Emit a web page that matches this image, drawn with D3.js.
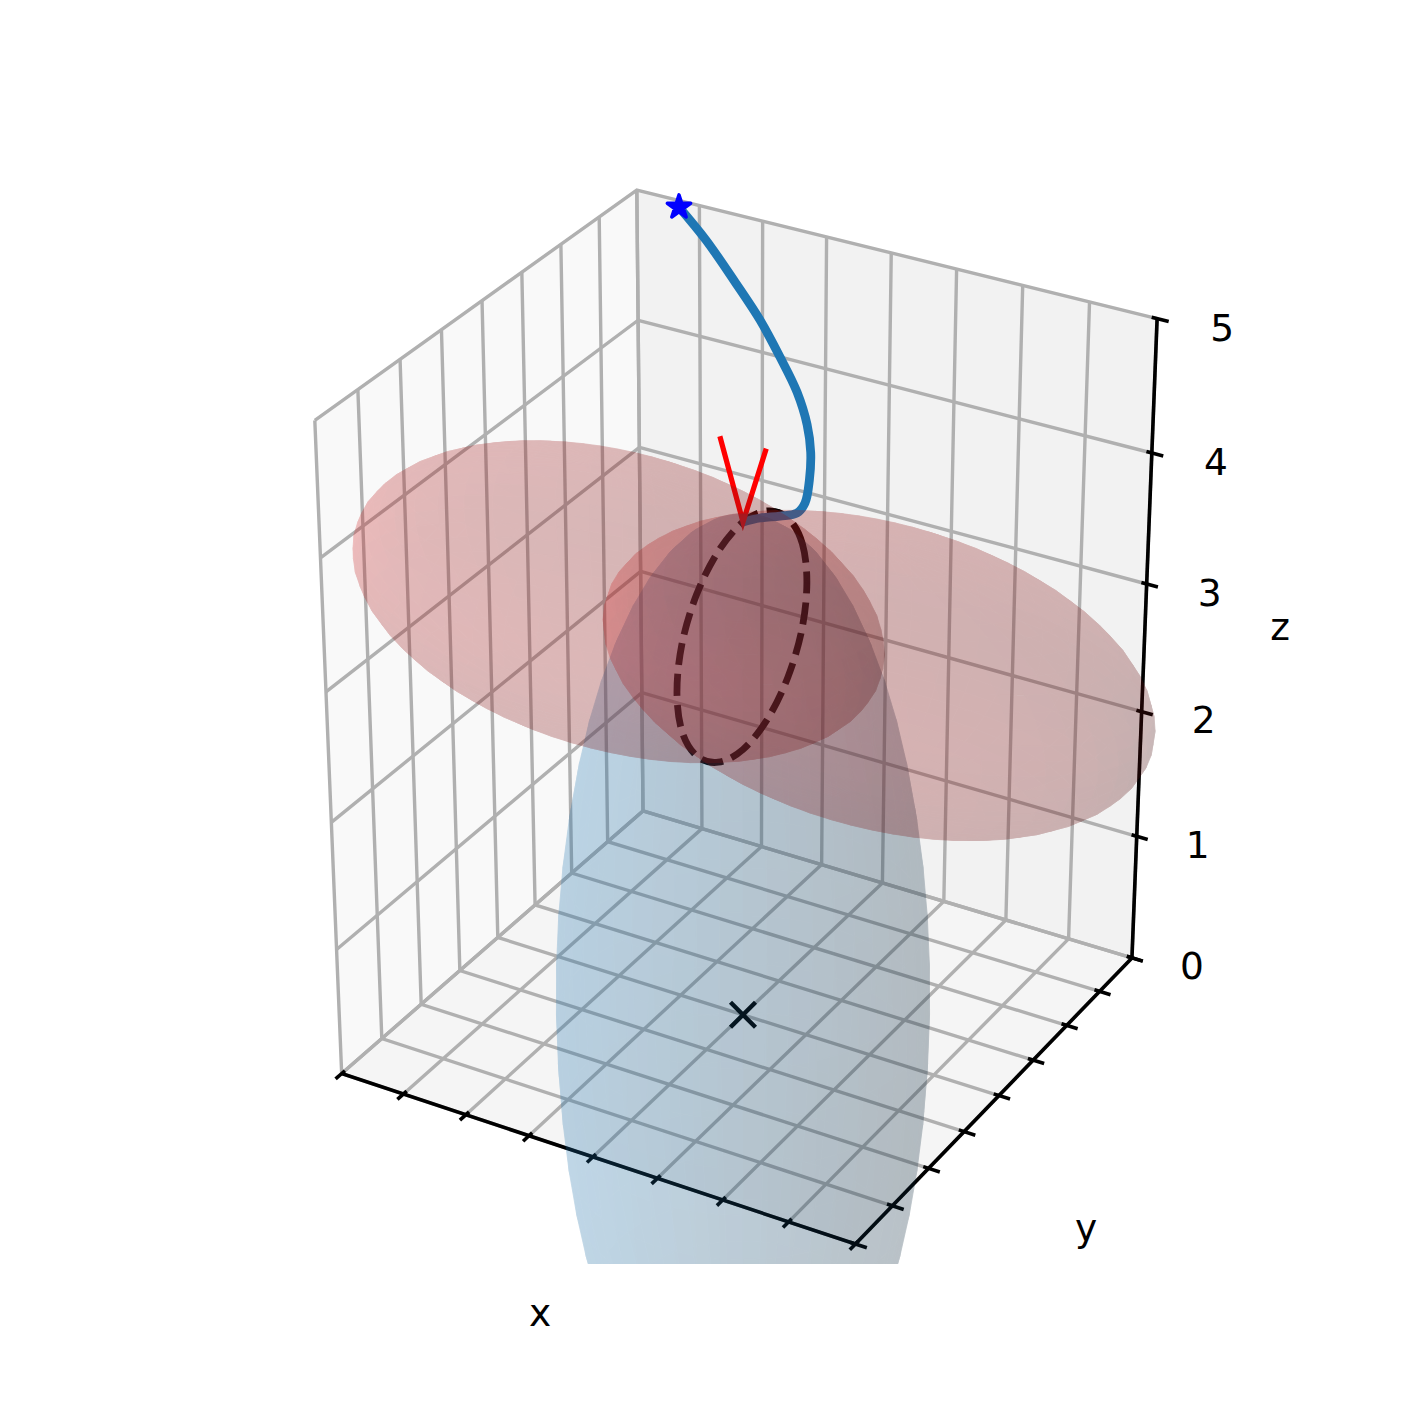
<!DOCTYPE html>
<html>
<head>
<meta charset="utf-8">
<script src="https://cdnjs.cloudflare.com/ajax/libs/d3/7.8.5/d3.min.js"></script>
<style>body{margin:0;background:#fff}</style>
</head>
<body>
<div id="chart"></div>
<script>
var xTicks = [-4, -3, -2, -1, 0, 1, 2, 3, 4];
var yTicks = [-4, -3, -2, -1, 0, 1, 2, 3, 4];
var zTicks = [0, 1, 2, 3, 4, 5];

var surfaceColors = [[31, 119, 180], [214, 39, 40], [214, 39, 40]];
var centerX = [0, -2, 2];
var centerY = [0, 0, 0];
var centerZ = [0, 3, 3];
var radiusX = [2.58, 4, 4];
var radiusY = [2.58, 2, 2];
var radiusZ = [3.87, 1, 1];
var surfaceAlpha = [0.15, 0.155, 0.155];

var ringX = [0, 0, 0, 0, 0, 0, 0, 0, 0, 0, 0, 0, 0, 0, 0, 0];
var ringY = [1.73, 1.6, 1.22, 0.66, 0, -0.66, -1.22, -1.6, -1.73, -1.6, -1.22, -0.66, 0, 0.66, 1.22, 1.6];
var ringZ = [3, 3.33, 3.61, 3.8, 3.87, 3.8, 3.61, 3.33, 3, 2.67, 2.39, 2.2, 2.13, 2.2, 2.39, 2.67];

var pathX = [-3.266, -2.545, -1.799, -1.122, -0.584, -0.096, 0.23, 0.455, 0.55, 0.598, 0.562, 0.39, 0.172, 0];
var pathY = [3.9, 3.4, 2.9, 2.4, 2, 1.6, 1.3, 1, 0.8, 0.6, 0.45, 0.3, 0.15, 0];
var pathZ = [4.977, 4.916, 4.795, 4.699, 4.576, 4.465, 4.329, 4.22, 4.073, 3.953, 3.908, 3.897, 3.888, 3.87];

var vEndX = [-0.35, 0, 0.35];
var vEndY = [0, 0, 0];
var vEndZ = [4.46, 3.87, 4.46];

var crossPoint = [0, 0, 0];

var width = 1420, height = 1420;
var elev = 30 * Math.PI / 180, azim = -60 * Math.PI / 180, dist = 10;
var viewScale = 5851, cx = 743, cy = 702, clipBottom = 1264;

var xWorld = d3.scaleLinear().domain([-4, 4]).range([-0.51, 0.51]);
var yWorld = d3.scaleLinear().domain([-4, 4]).range([-0.51, 0.51]);
var zWorld = d3.scaleLinear().domain([0, 5]).range([-0.637, 0.637]);

var labelDx = d3.scaleLinear().domain([0, 5]).range([60, 65]);
var labelDy = d3.scaleLinear().domain([0, 5]).range([7.2, 9]);

var camU = [-Math.sin(azim), Math.cos(azim), 0];
var camV = [-Math.sin(elev) * Math.cos(azim), -Math.sin(elev) * Math.sin(azim), Math.cos(elev)];
var camW = [Math.cos(elev) * Math.cos(azim), Math.cos(elev) * Math.sin(azim), Math.sin(elev)];

var dot = function(a, b) { return a[0] * b[0] + a[1] * b[1] + a[2] * b[2]; };

var project = function(d) {
	var p = [xWorld(d[0]), yWorld(d[1]), zWorld(d[2])];
	var den = dist - dot(p, camW);
	return [cx + viewScale * dot(p, camU) / den, cy - viewScale * dot(p, camV) / den];
};

var line3d = d3.line().x(function(d) { return project(d)[0]; }).y(function(d) { return project(d)[1]; });

var svg = d3.select("#chart").append("svg").attr("width", width).attr("height", height);
svg.append("clipPath").attr("id", "axesClip").append("rect").attr("width", width).attr("height", clipBottom);

// panes
var panes = [
	{fill: "#f9f9f9", pts: [[-4, -4, 0], [-4, 4, 0], [-4, 4, 5], [-4, -4, 5]]},
	{fill: "#f2f2f2", pts: [[-4, 4, 0], [4, 4, 0], [4, 4, 5], [-4, 4, 5]]},
	{fill: "#f5f5f5", pts: [[-4, -4, 0], [4, -4, 0], [4, 4, 0], [-4, 4, 0]]}
];
svg.selectAll(".pane").data(panes).enter().append("path")
	.attr("class", "pane")
	.attr("d", function(d) { return line3d(d.pts) + "Z"; })
	.attr("fill", function(d) { return d.fill; });

// grid
var gridLines = [];
xTicks.forEach(function(t) {
	gridLines.push([[t, -4, 0], [t, 4, 0], [t, 4, 5]]);
});
yTicks.forEach(function(t) {
	gridLines.push([[4, t, 0], [-4, t, 0], [-4, t, 5]]);
});
zTicks.forEach(function(t) {
	gridLines.push([[-4, -4, t], [-4, 4, t], [4, 4, t]]);
});
svg.selectAll(".grid").data(gridLines).enter().append("path")
	.attr("class", "grid")
	.attr("d", line3d)
	.attr("fill", "none")
	.attr("stroke", "#b0b0b0")
	.attr("stroke-width", 3.4);

// axis lines and ticks
var axisLines = [
	[[-4, -4, 0], [4, -4, 0]],
	[[4, -4, 0], [4, 4, 0]],
	[[4, 4, 0], [4, 4, 5]]
];
xTicks.forEach(function(t) { axisLines.push([[t, -4.15, 0], [t, -3.92, 0]]); });
yTicks.forEach(function(t) { axisLines.push([[3.92, t, 0], [4.17, t, 0]]); });
zTicks.forEach(function(t) { axisLines.push([[3.92, 4, t], [4.17, 4, t]]); });
svg.selectAll(".axisline").data(axisLines).enter().append("path")
	.attr("class", "axisline")
	.attr("d", line3d)
	.attr("fill", "none")
	.attr("stroke", "#000")
	.attr("stroke-width", 3.6);

// ring, path, vee and cross sit under the surfaces
var ring = d3.zip(ringX, ringY, ringZ);
svg.append("path")
	.attr("d", d3.line().curve(d3.curveCardinalClosed.tension(0))(ring.map(project)))
	.attr("fill", "none")
	.attr("stroke", "#000")
	.attr("stroke-width", 6.8)
	.attr("stroke-dasharray", "22 9");

var traj = d3.zip(pathX, pathY, pathZ);
svg.append("path")
	.attr("d", d3.line().curve(d3.curveCatmullRom)(traj.map(project)))
	.attr("fill", "none")
	.attr("stroke", "#1f77b4")
	.attr("stroke-width", 8.8);

svg.append("path")
	.attr("d", line3d(d3.zip(vEndX, vEndY, vEndZ)))
	.attr("fill", "none")
	.attr("stroke", "#ff0000")
	.attr("stroke-width", 5.2);

svg.append("path")
	.attr("transform", "translate(" + project(crossPoint) + ")")
	.attr("d", d3.symbol().type(d3.symbolTimes).size(410)())
	.attr("fill", "none")
	.attr("stroke", "#000")
	.attr("stroke-width", 4.4);

svg.append("path")
	.attr("transform", "translate(" + project(traj[0]) + ")")
	.attr("d", d3.symbol().type(d3.symbolStar).size(170)())
	.attr("fill", "#0000ff")
	.attr("stroke", "#0000ff")
	.attr("stroke-width", 3.4)
	.attr("stroke-linejoin", "round");

// surfaces: back faces then front faces, each flattened and faded
var light = [-0.667, -0.667, 0.333];
var nTheta = 48, nPhi = 30;
var surfaces = svg.append("g").attr("clip-path", "url(#axesClip)");

centerX.forEach(function(c, s) {
	var quads = [];
	var point = function(t, f) {
		return [c + radiusX[s] * Math.cos(t) * Math.sin(f),
			centerY[s] + radiusY[s] * Math.sin(t) * Math.sin(f),
			centerZ[s] + radiusZ[s] * Math.cos(f)];
	};
	d3.range(nTheta).forEach(function(i) {
		d3.range(nPhi).forEach(function(j) {
			var t0 = i / nTheta * 2 * Math.PI, t1 = (i + 1) / nTheta * 2 * Math.PI;
			var f0 = j / nPhi * Math.PI, f1 = (j + 1) / nPhi * Math.PI;
			var poly = [point(t0, f0), point(t1, f0), point(t1, f1), point(t0, f1)].map(project);
			var tm = (t0 + t1) / 2, fm = (f0 + f1) / 2;
			var n = [Math.cos(tm) * Math.sin(fm) / radiusX[s], Math.sin(tm) * Math.sin(fm) / radiusY[s], Math.cos(fm) / radiusZ[s]];
			var len = Math.sqrt(dot(n, n));
			var shade = 0.3 + 0.7 * (dot(n, light) / len + 1) / 2;
			var col = surfaceColors[s];
			quads.push({
				poly: poly,
				front: d3.polygonArea(poly) < 0,
				fill: d3.rgb(col[0] * shade, col[1] * shade, col[2] * shade).formatHex()
			});
		});
	});
	[false, true].forEach(function(side) {
		var g = surfaces.append("g").attr("opacity", surfaceAlpha[s]);
		g.selectAll("path").data(quads.filter(function(q) { return q.front === side; })).enter().append("path")
			.attr("d", function(q) { return "M" + q.poly.join("L") + "Z"; })
			.attr("fill", function(q) { return q.fill; })
			.attr("stroke", function(q) { return q.fill; })
			.attr("stroke-width", 0.8);
	});
});

// labels
var font = "'DejaVu Sans'";
svg.selectAll(".ztick").data(zTicks).enter().append("text")
	.attr("class", "ztick")
	.attr("x", function(d) { return project([4, 4, d])[0] + labelDx(d); })
	.attr("y", function(d) { return project([4, 4, d])[1] + labelDy(d); })
	.attr("text-anchor", "middle")
	.attr("dy", "0.365em")
	.attr("font-family", font)
	.attr("font-size", 37.5)
	.text(function(d) { return d; });

var axisLabels = [
	{text: "x", at: [540, 1315]},
	{text: "y", at: [1086, 1230]},
	{text: "z", at: [1280, 629]}
];
svg.selectAll(".axlabel").data(axisLabels).enter().append("text")
	.attr("class", "axlabel")
	.attr("x", function(d) { return d.at[0]; })
	.attr("y", function(d) { return d.at[1]; })
	.attr("text-anchor", "middle")
	.attr("dy", "0.3em")
	.attr("font-family", font)
	.attr("font-size", 37.5)
	.text(function(d) { return d.text; });
</script>
</body>
</html>
